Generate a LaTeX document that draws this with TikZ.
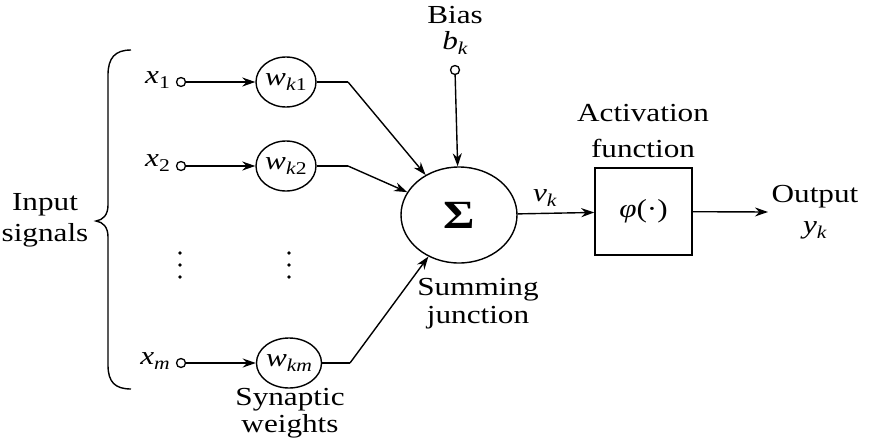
\documentclass[tikz,border=0pt]{standalone}
\usepackage{fontspec}
\setmainfont[FakeStretch=1.2]{Liberation Serif}
\usetikzlibrary{arrows.meta,shapes.geometric}
\newcommand\lsub[1]{\raisebox{-0.45ex}{\fontsize{18}{20}\selectfont #1}}
\begin{document}
\begin{tikzpicture}[x=1pt,y=-1pt,
  every node/.style={font=\fontsize{26}{31}\selectfont, inner sep=0pt},
  lbl/.style={align=center},
  port/.style={circle,draw,line width=1.3pt,minimum size=9pt,inner sep=0pt},
  wgt/.style={ellipse,draw,line width=1.4pt,minimum width=60pt,minimum height=50pt},
  wire/.style={line width=1.4pt},
  arr/.style={line width=1.4pt,-{Stealth[length=13pt,width=9pt]}},
]
\useasboundingbox (0,0) rectangle (878,442);

% brace
\draw[line width=1.4pt] (131,50) .. controls (115,50) and (108,58) .. (108,75) -- (108,205)
  .. controls (108,215) and (103,220) .. (96,221)
  .. controls (103,222) and (108,227) .. (108,237) -- (108,365)
  .. controls (108,382) and (115,389) .. (131,389);
\node[lbl] (in) at (45,220) {Input\\signals};

% inputs
\node[anchor=east] (x1l) at (170,80) {\textit{x}\lsub{1}};
\node[anchor=east] (x2l) at (170,163) {\textit{x}\lsub{2}};
\node[anchor=east] (xml) at (170,361) {\textit{x}\lsub{\textit{m}}};
\node[port] (x1) at (181,82) {};
\node[port] (x2) at (181,166) {};
\node[port] (xm) at (181,363) {};

\node[wgt] (w1) at (286,82) {\textit{w}\lsub{\textit{k}1}};
\node[wgt] (w2) at (286,166) {\textit{w}\lsub{\textit{k}2}};
\node[wgt] (wm) at (289,363) {\textit{w}\lsub{\textit{km}}};

\draw[arr] (x1) -- (w1);
\draw[arr] (x2) -- (w2);
\draw[arr] (xm) -- (wm);

% dots
\foreach \yy in {253,265,277} {
  \fill (180,\yy) circle (1.8pt);
  \fill (289,\yy) circle (1.8pt);
}

\node[lbl,font=\fontsize{26}{27}\selectfont] (syn) at (290,413) {Synaptic\\weights};

% summing junction
\node[ellipse,draw,line width=1.4pt,minimum width=116pt,minimum height=96pt,
  font=\fontsize{40}{42}\selectfont\bfseries] (sum) at (459,215) {Σ};
\node[lbl,font=\fontsize{26}{28}\selectfont] (sj) at (478,304) {Summing\\junction};

\coordinate (k1) at (348,82);
\coordinate (k2) at (348,166);
\coordinate (km) at (350,363);
\draw[wire] (w1) -- (k1);
\draw[arr] (k1) -- (sum);
\draw[wire] (w2) -- (k2);
\draw[arr] (k2) -- (sum);
\draw[wire] (wm) -- (km);
\draw[arr] (km) -- (sum);

% bias
\node (bias) at (455,15) {Bias};
\node (bk) at (455,43) {\textit{b}\lsub{\textit{k}}};
\node[port] (b) at (455,70) {};
\draw[arr] (b) -- (sum);

% activation
\node[draw,line width=1.4pt,minimum width=97pt,minimum height=87pt] (act) at (643.5,211.5) {\textit{φ}(·)};
\node[lbl,font=\fontsize{26}{36}\selectfont] (actl) at (643,131) {Activation\\function};
\node (vk) at (545,198) {\textit{v}\lsub{\textit{k}}};
\draw[arr] (sum) -- (act);

\coordinate (out) at (768,212);
\draw[arr] (act) -- (out);
\node[lbl] (outl) at (815,212) {Output\\\textit{y}\lsub{\textit{k}}};
\end{tikzpicture}
\end{document}
